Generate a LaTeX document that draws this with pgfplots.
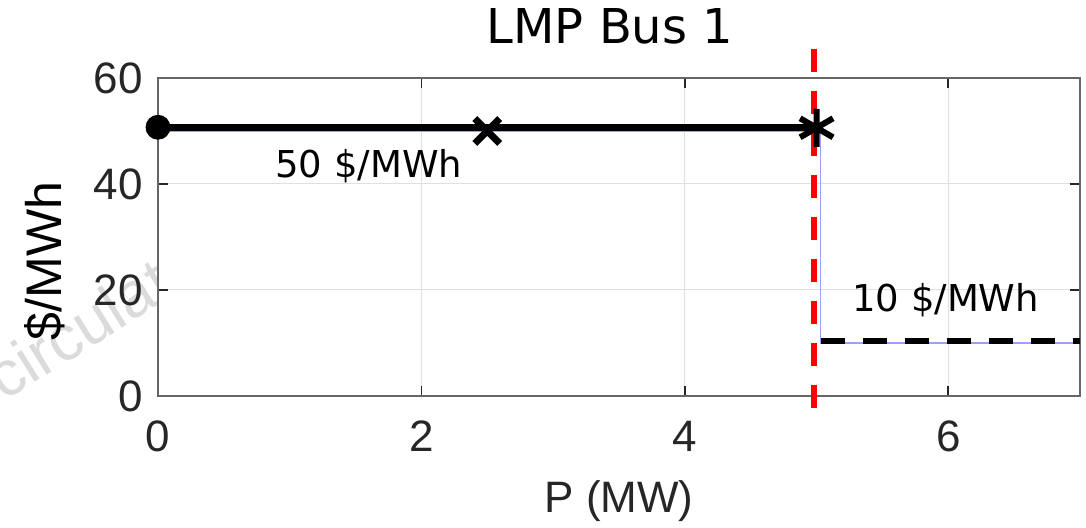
\documentclass[border=0pt]{standalone}
\usepackage{fontspec}
\setmainfont{Liberation Sans}
\newfontfamily\dejavu{DejaVu Sans}
\usepackage{pgfplots}
\pgfplotsset{compat=1.18}
\usetikzlibrary{calc}
\definecolor{axgray}{gray}{0.15}
\definecolor{gridgray}{gray}{0.88}
\definecolor{stepblue}{rgb}{0.62,0.62,1}

\begin{document}
\begin{tikzpicture}
% faint watermark behind the axes
\node[text=gray!28, font=\fontsize{32}{36}\selectfont, rotate=32, anchor=base west, inner sep=0pt] at (-77pt,-3pt) {circulat};
\begin{axis}[
    name=ax,
    at={(0,0)}, anchor=south west,
    scale only axis,
    width=461pt, height=159pt,
    xmin=0, xmax=7, ymin=0, ymax=60,
    xtick={0,2,4,6}, ytick={0,20,40,60},
    clip=false,
    axis background/.style={fill=white},
    grid=major,
    grid style={gridgray, line width=0.5pt},
    axis line style={black!60, line width=0.8pt},
    tick style={axgray, line width=0.8pt},
    major tick length=5pt,
    tick align=inside,
    ticklabel style={font=\fontsize{22}{26}\selectfont, text=axgray},
    xticklabel style={yshift=-9pt},
    yticklabel style={xshift=-4pt},
    /pgf/number format/assume math mode=true,
    xlabel={P (MW)},
    ylabel={\$/MWh},
    xlabel style={font=\fontsize{22}{26}\selectfont, text=axgray,
        at={(axis description cs:0.5,-0.33)}, anchor=center},
    ylabel style={font=\fontsize{25}{29}\selectfont,
        at={(axis description cs:-0.1225,0.425)}, anchor=center},
    title={\dejavu LMP Bus 1},
    every axis title shift=0pt,
    title style={font=\fontsize{24}{28}\selectfont, yshift=0pt, inner sep=0pt,
        at={(axis description cs:0.4902,1.1038)}, anchor=south},
]
% price step (thin)
\addplot[stepblue, line width=0.6pt] coordinates {(0,50) (5.03,50) (5.03,10) (7,10)};
% LMP at 50
\addplot[black, line width=3.5pt] coordinates {(0,50.7) (5,50.7)};
\addplot[black, only marks, mark=*, mark size=6pt] coordinates {(0,50.7)};
\addplot[black, only marks, mark=x, mark size=8.8pt, line width=3.5pt] coordinates {(2.5,50)};
\addplot[black, only marks, mark=asterisk, mark size=9.5pt, line width=3pt] coordinates {(5,50.6)};
% limit
\addplot[red, line width=3pt, dash pattern=on 11.5pt off 9.5pt] coordinates {(4.98,65.5) (4.98,-2.5)};
% LMP at 10
\addplot[black, line width=3pt, dash pattern=on 12pt off 9pt] coordinates {(5.03,10.4) (7,10.4)};

\node[font=\dejavu\fontsize{18.5}{22}\selectfont, anchor=base] at (axis cs:1.60,41.3) {50 \$/MWh};
\node[font=\dejavu\fontsize{18.5}{22}\selectfont, anchor=base] at (axis cs:5.98,15.85) {10 \$/MWh};
\end{axis}
\pgfresetboundingbox
\path ($(ax.south west)+(-79pt,-66pt)$) rectangle ($(ax.north east)+(3pt,39pt)$);
\end{tikzpicture}
\end{document}
